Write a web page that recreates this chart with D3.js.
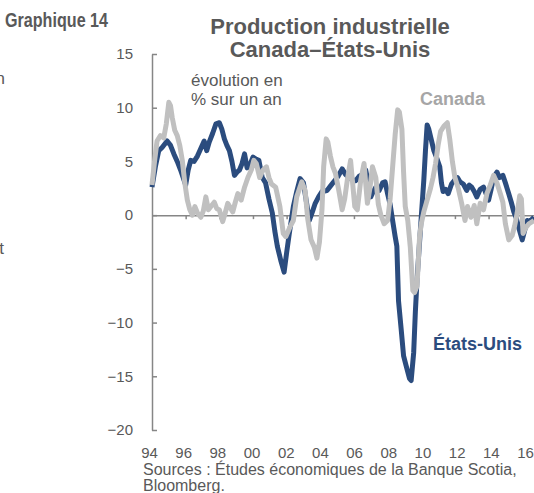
<!DOCTYPE html>
<html>
<head>
<meta charset="utf-8" />
<title>Graphique 14</title>
<script type="text/javascript" src="https://cdn.jsdelivr.net/npm/d3@7/dist/d3.min.js"></script>
<style>
body { margin: 0; background: #fff; }
svg { display: block; font-family: "Liberation Sans", Arial, sans-serif; }
.axis text { fill: #595959; font-size: 15px; font-family: "Liberation Sans", Arial, sans-serif; }
.axis path, .axis line { stroke: #868686; stroke-width: 1.5; }
</style>
</head>
<body>
<div id="chart"></div>
<script>
// yearly % change (decimal years)
var usYears = [1994.0,1994.2,1994.4,1994.6,1994.9,1995.1,1995.3,1995.5,1995.7,1995.85,1996.0,1996.15,1996.3,1996.5,1996.7,1996.9,
  1997.1,1997.25,1997.4,1997.6,1997.8,1998.0,1998.15,1998.3,1998.45,1998.6,1998.75,1998.9,1999.05,1999.2,1999.35,1999.5,1999.65,1999.8,
  2000.0,2000.2,2000.35,2000.55,2000.75,2000.95,2001.15,2001.3,2001.45,2001.65,2001.85,2002.0,2002.15,2002.4,2002.6,2002.8,
  2003.0,2003.15,2003.35,2003.55,2003.7,2003.9,2004.1,2004.4,2004.6,2004.85,2005.05,2005.3,2005.5,2005.7,2005.9,
  2006.1,2006.3,2006.5,2006.7,2006.85,2007.0,2007.15,2007.3,2007.5,2007.7,2007.85,2008.0,2008.15,2008.3,2008.45,2008.55,
  2008.65,2008.8,2008.95,2009.1,2009.3,2009.4,2009.55,2009.65,2009.75,2009.9,2010.0,2010.15,2010.25,2010.35,2010.45,2010.6,
  2010.75,2010.9,2011.1,2011.2,2011.3,2011.45,2011.6,2011.8,2012.0,2012.15,2012.3,2012.5,2012.7,2012.85,2013.0,2013.15,
  2013.3,2013.5,2013.7,2013.85,2014.0,2014.15,2014.3,2014.5,2014.65,2014.85,2015.0,2015.2,2015.35,2015.5,2015.65,2015.8,
  2016.0,2016.15,2016.3,2016.45,2016.7];
var usValues = [2.6,4.5,6.0,6.3,6.9,6.5,5.7,5.0,4.2,3.5,2.8,4.2,5.1,5.0,5.5,6.2,
  6.9,6.0,6.8,7.6,8.5,8.6,8.0,7.1,6.5,6.0,5.0,3.7,4.0,4.2,4.8,5.7,4.4,4.6,
  5.4,5.2,5.1,3.5,3.0,1.5,0.2,-1.5,-2.9,-4.2,-5.3,-3.5,-1.8,0.8,2.2,3.4,
  3.0,1.5,-0.5,0.4,1.1,1.7,2.2,2.3,2.7,3.2,3.6,4.3,3.8,3.5,3.3,
  3.2,3.6,3.8,4.2,3.0,1.7,2.2,2.6,2.3,3.0,3.1,2.0,1.0,-0.5,-2.0,-2.9,
  -8.0,-10.5,-13.1,-14.0,-15.2,-15.4,-12.8,-9.0,-6.0,-2.5,-0.2,3.2,6.0,8.4,8.0,7.0,
  6.0,5.4,4.5,3.0,2.2,2.4,2.0,2.9,3.3,3.5,3.1,2.9,2.3,2.8,2.6,2.2,
  1.7,2.4,2.6,2.0,1.4,2.4,3.5,4.0,3.5,3.7,3.0,2.0,1.2,0.3,-0.3,-1.2,
  -2.3,-1.4,-0.5,-0.6,-0.2];

var caYears = [1994.0,1994.15,1994.3,1994.5,1994.7,1994.85,1995.0,1995.1,1995.2,1995.35,1995.5,1995.65,1995.8,1995.95,
  1996.1,1996.25,1996.4,1996.55,1996.7,1996.9,1997.05,1997.2,1997.35,1997.5,1997.7,1997.85,1998.0,1998.2,1998.35,1998.5,
  1998.65,1998.8,1998.95,1999.1,1999.3,1999.5,1999.7,1999.9,2000.05,2000.2,2000.4,2000.6,2000.8,2000.95,2001.1,2001.35,
  2001.6,2001.8,2001.95,2002.2,2002.4,2002.6,2002.9,2003.1,2003.25,2003.45,2003.65,2003.8,2003.95,2004.1,2004.2,2004.35,
  2004.45,2004.6,2004.75,2004.9,2005.1,2005.3,2005.45,2005.6,2005.8,2005.95,2006.05,2006.2,2006.4,2006.6,2006.8,2006.95,
  2007.1,2007.3,2007.45,2007.6,2007.8,2008.0,2008.15,2008.3,2008.45,2008.6,2008.7,2008.85,2008.95,2009.05,2009.2,2009.35,
  2009.5,2009.6,2009.75,2009.9,2010.0,2010.15,2010.35,2010.55,2010.7,2010.85,2011.0,2011.15,2011.35,2011.55,2011.7,2011.85,
  2012.0,2012.2,2012.4,2012.6,2012.75,2012.95,2013.15,2013.3,2013.5,2013.7,2013.9,2014.1,2014.3,2014.5,2014.7,2014.85,
  2015.0,2015.2,2015.4,2015.55,2015.7,2015.85,2015.95,2016.05,2016.2,2016.4,2016.7];
var caValues = [2.8,5.0,6.9,7.4,7.2,8.5,10.5,10.2,9.1,7.9,7.4,6.5,5.1,3.0,
  1.4,0.5,0.0,0.8,0.2,-0.2,0.4,1.7,0.5,0.8,1.2,0.6,0.5,-0.6,0.2,1.1,
  0.7,0.3,1.2,2.0,1.4,2.6,3.5,4.2,5.1,4.8,3.5,4.2,4.5,3.5,2.9,2.6,
  0.8,-1.7,-2.0,-1.1,-0.5,1.7,3.1,2.3,-0.3,-2.3,-3.0,-4.0,-2.5,0.5,4.5,7.1,
  6.8,5.5,4.5,3.9,2.3,0.5,1.5,3.2,5.1,2.5,0.8,0.5,3.2,4.8,1.1,2.5,
  4.5,3.5,1.0,0.0,-0.8,-0.5,1.5,4.5,7.5,9.8,9.6,8.0,4.0,0.8,-0.5,-3.0,
  -7.0,-7.2,-6.6,-2.0,-0.8,0.3,1.4,2.5,3.5,4.8,6.5,7.8,8.3,8.6,7.0,5.0,
  3.5,2.5,1.1,-0.5,0.8,-0.2,0.9,-0.8,1.1,0.5,2.0,2.8,3.7,3.0,2.0,1.2,
  -0.8,-2.3,-1.9,-1.0,0.2,1.8,1.5,-1.7,-1.2,-0.8,-0.5];

var yTicks = [15, 10, 5, 0, -5, -10, -15, -20];
var xTickYears = [1994,1996,1998,2000,2002,2004,2006,2008,2010,2012,2014,2016];
var xTickLabels = ["94","96","98","00","02","04","06","08","10","12","14","16"];

var width = 534, height = 493;
var svg = d3.select("#chart").append("svg")
  .attr("width", width)
  .attr("height", height);

var x = d3.scaleLinear().domain([1994, 2016.7]).range([152, 534]);
var y = d3.scaleLinear().domain([-20, 15]).range([430, 54]);
// the year labels sit a little apart from the data ticks
var xLab = d3.scalePoint().domain(xTickLabels).range([149, 525]);

// y axis, ticks pointing into the plot
svg.append("g")
  .attr("class", "axis")
  .attr("transform", "translate(152,0)")
  .call(d3.axisLeft(y).tickValues(yTicks).tickSize(-5).tickSizeOuter(0).tickPadding(19));

// zero line with small ticks
svg.append("g")
  .attr("class", "axis")
  .attr("transform", "translate(0," + y(0) + ")")
  .call(d3.axisBottom(x).tickValues(xTickYears.slice(1)).tickSize(4).tickSizeOuter(0).tickFormat(""));

// year labels at the bottom
var xl = svg.append("g")
  .attr("class", "axis")
  .attr("transform", "translate(0,444)")
  .call(d3.axisBottom(xLab).tickSize(0));
xl.select(".domain").remove();

var line = d3.line()
  .x(function(d){ return x(d[0]); })
  .y(function(d){ return y(d[1]); })
  .curve(d3.curveLinear);

svg.append("path")
  .datum(d3.zip(usYears, usValues))
  .attr("d", line)
  .attr("fill", "none")
  .attr("stroke", "#2b4c7e")
  .attr("stroke-width", 5)
  .attr("stroke-linejoin", "round");

svg.append("path")
  .datum(d3.zip(caYears, caValues))
  .attr("d", line)
  .attr("fill", "none")
  .attr("stroke", "#c0c0c0")
  .attr("stroke-width", 5)
  .attr("stroke-linejoin", "round");

// titles and notes
svg.append("text")
  .attr("x", 5).attr("y", 27)
  .attr("font-size", 21).attr("font-weight", "bold").attr("fill", "#595959")
  .attr("textLength", 103).attr("lengthAdjust", "spacingAndGlyphs")
  .text("Graphique 14");

svg.append("text")
  .attr("x", 330).attr("y", 34)
  .attr("text-anchor", "middle")
  .attr("font-size", 22).attr("font-weight", "bold").attr("fill", "#595959")
  .text("Production industrielle");
svg.append("text")
  .attr("x", 330).attr("y", 57)
  .attr("text-anchor", "middle")
  .attr("font-size", 22).attr("font-weight", "bold").attr("fill", "#595959")
  .text("Canada\u2013\u00c9tats-Unis");

svg.append("text")
  .attr("x", 191).attr("y", 86)
  .attr("font-size", 17).attr("fill", "#595959")
  .text("évolution en");
svg.append("text")
  .attr("x", 191).attr("y", 105)
  .attr("font-size", 17).attr("fill", "#595959")
  .text("% sur un an");

svg.append("text")
  .attr("x", 420).attr("y", 105)
  .attr("font-size", 18).attr("font-weight", "bold").attr("fill", "#a6a6a6")
  .text("Canada");

svg.append("text")
  .attr("x", 433).attr("y", 350)
  .attr("font-size", 18).attr("font-weight", "bold").attr("fill", "#2b4c7e")
  .text("États-Unis");

svg.append("text")
  .attr("x", 143).attr("y", 475)
  .attr("font-size", 16).attr("fill", "#595959")
  .text("Sources : Études économiques de la Banque Scotia,");
svg.append("text")
  .attr("x", 143).attr("y", 491)
  .attr("font-size", 16).attr("fill", "#595959")
  .text("Bloomberg.");

// bits of the neighbouring panel's text, cut at the left edge
svg.append("text")
  .attr("x", 5).attr("y", 84).attr("text-anchor", "end")
  .attr("font-size", 17).attr("fill", "#595959")
  .text("n");
svg.append("text")
  .attr("x", 4).attr("y", 254).attr("text-anchor", "end")
  .attr("font-size", 17).attr("fill", "#595959")
  .text("t");
</script>
</body>
</html>
